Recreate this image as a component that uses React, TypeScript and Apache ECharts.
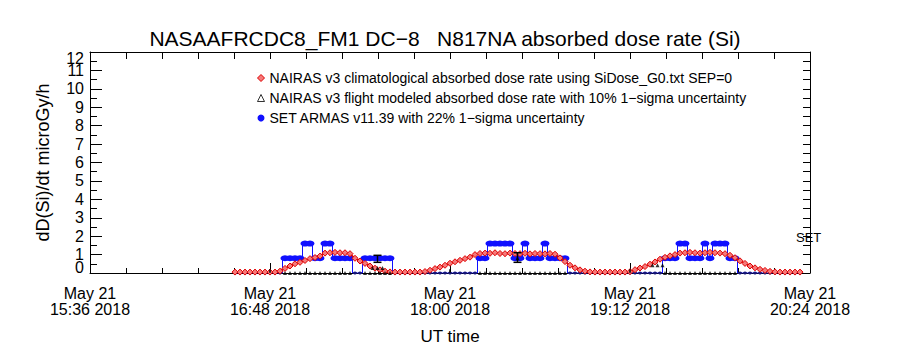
import React, { useEffect, useRef } from "react";
import * as echarts from "echarts";

// ---- data (minutes after 15:36 UT, May 21 2018) ----
const xTickLabels = ["15:36", "16:48", "18:00", "19:12", "20:24"];
const xTickStep = 72; // minutes between labelled ticks

const sampleMinutes = [
  58, 60, 62, 64, 66, 68, 70, 72, 74, 76, 78, 80, 82, 84, 86, 88, 90, 92, 94, 96,
  98, 100, 102, 104, 106, 108, 110, 112, 114, 116, 118, 120, 122, 124, 126, 128, 130, 132, 134, 136,
  138, 140, 142, 144, 146, 148, 150, 152, 154, 156, 158, 160, 162, 164, 166, 168, 170, 172, 174, 176,
  178, 180, 182, 184, 186, 188, 190, 192, 194, 196, 198, 200, 202, 204, 206, 208, 210, 212, 214, 216,
  218, 220, 222, 224, 226, 228, 230, 232, 234, 236, 238, 240, 242, 244, 246, 248, 250, 252, 254, 256,
  258, 260, 262, 264, 266, 268, 270, 272, 274, 276, 278, 280, 282, 284,
];

// NAIRAS v3 climatological absorbed dose rate
const climDose = [
  0.05, 0.05, 0.05, 0.05, 0.05, 0.05, 0.05, 0.05, 0.05,
  0.1, 0.25, 0.38, 0.5, 0.58, 0.68, 0.78, 0.84, 0.92, 1.08, 1.1, 1.12, 1.1, 1.1, 1.05,
  0.8, 0.65, 0.52, 0.38, 0.26, 0.17, 0.1, 0.06,
  0.05, 0.05, 0.05, 0.05, 0.05, 0.05,
  0.08, 0.15, 0.24, 0.32, 0.42, 0.53, 0.61, 0.69, 0.78, 0.86, 1.0, 1.06,
  1.08, 1.07, 1.1, 1.06, 1.05, 1.08, 1.06, 1.05, 1.07, 1.04, 1.06, 1.05, 1.04, 1.06, 1.02,
  0.82, 0.62, 0.42, 0.28, 0.17, 0.1, 0.06,
  0.05, 0.05, 0.05, 0.05, 0.05, 0.05, 0.05,
  0.07, 0.18, 0.27, 0.35, 0.48, 0.6, 0.75, 0.85, 0.93, 1.0, 1.08, 1.1,
  1.12, 1.1, 1.08, 1.1, 1.12, 1.1, 1.08, 1.05,
  0.96, 0.83, 0.66, 0.52, 0.38, 0.28, 0.2, 0.14, 0.09, 0.06,
  0.05, 0.05, 0.05, 0.05, 0.05,
];

// SET ARMAS v11.39
const setDose = [
  0, 0, 0, 0, 0, 0, 0, 0, 0, 0,
  0.8, 0.8, 0.8, 0.8, 1.6, 1.6, 0.8, 0.8, 1.6, 1.6, 0.8, 0.8, 0.8, 0.8, 0, 0, 0.8, 0.8, 0.8, 0.8, 0.8, 0.8,
  0, 0, 0, 0, 0, 0, 0, 0, 0, 0, 0, 0, 0, 0, 0, 0, 0,
  0.8, 0.8, 1.6, 1.6, 1.6, 1.6, 1.6, 0.8, 0.8, 1.6, 0.8, 0.8, 0.8, 1.6, 0.8, 0.8, 0.8, 0.8,
  0, 0, 0, 0, 0, 0, 0, 0, 0, 0, 0, 0, 0, 0, 0, 0, 0, 0, 0,
  0.8, 0.8, 0.8, 1.6, 1.6, 0.8, 0.8, 0.8, 1.6, 0.8, 1.6, 1.6, 1.6, 0.8, 0.8,
  0, 0, 0, 0, 0, 0, 0, 0, 0, 0, 0, 0, 0,
];

// NAIRAS v3 flight modeled absorbed dose rate
const flightMinutes = [
  78, 80, 82, 84, 86, 88, 90, 92, 94, 96, 98, 100, 102, 104, 110, 112, 113, 114, 115, 116, 117, 118, 120,
  156, 158, 160, 162, 164, 166, 168, 170, 171, 172, 174, 176, 178, 180, 182, 184, 186, 188, 190,
  225, 227, 229, 230, 232, 234, 236, 238, 240, 242, 244, 246, 248, 250, 252, 254, 256, 258,
];
const flightDose = [
  0, 0, 0, 0, 0, 0, 0, 0, 0, 0, 0, 0, 0, 0, 0, 0, 0.27, 0, 0.27, 0, 0.27, 0, 0,
  0, 0, 0, 0, 0, 0, 0, 0, 0.8, 0, 0, 0, 0, 0, 0, 0, 0, 0, 0,
  0.42, 0.42, 0.42, 0, 0, 0, 0, 0, 0, 0, 0, 0, 0, 0, 0, 0, 0, 0,
];
// 1-sigma uncertainty bars of the flight model
const errMinutes = [72, 115, 144, 171, 216];
const errLow = [0.02, 0.58, 0.02, 0.58, 0.02];
const errHigh = [0.2, 0.96, 0.2, 1.1, 0.2];

const climName = "NAIRAS v3 climatological absorbed dose rate using SiDose_G0.txt SEP=0";
const flightName = "NAIRAS v3 flight modeled absorbed dose rate with 10% 1\u2212sigma uncertainty";
const setName = "SET ARMAS v11.39 with 22% 1\u2212sigma uncertainty";

const Y_MIN = 0;
const Y_MAX = 12;

const FONT = "Liberation Sans";
const RED = "#e00000";
const RED_FILL = "#f47a7a";
const BLUE = "#1010ff";
const NAVY = "#16167a";

export default function App() {
  const ref = useRef<HTMLDivElement>(null);

  useEffect(() => {
    if (!ref.current) return;
    const chart = echarts.init(ref.current, undefined, { renderer: "svg" });

    const yLabelBase = { fontFamily: FONT, fontSize: 16, lineHeight: 12, color: "#000", margin: 6 };

    const option: any = {
      animation: false,
      backgroundColor: "#ffffff",
      textStyle: { fontFamily: FONT, color: "#000" },
      grid: { left: 90, right: 90, top: 52, bottom: 72, containLabel: false },
      graphic: [
        {
          type: "text",
          x: 445,
          y: 38,
          style: {
            text: "NASAAFRCDC8_FM1 DC\u22128   N817NA absorbed dose rate (Si)",
            fontFamily: FONT,
            fontSize: 21,
            fill: "#000",
            textAlign: "center",
            textVerticalAlign: "middle",
          },
        },
        {
          type: "text",
          x: 796,
          y: 237,
          style: {
            text: "SET",
            fontFamily: FONT,
            fontSize: 13,
            fill: "#000",
            textAlign: "left",
            textVerticalAlign: "middle",
          },
        },
      ],
      legend: {
        orient: "vertical",
        left: 257,
        top: 71,
        padding: 0,
        itemWidth: 7,
        itemHeight: 7,
        itemGap: 6,
        selectedMode: false,
        textStyle: { fontFamily: FONT, fontSize: 14, color: "#000" },
        data: [
          { name: climName, icon: "diamond", itemStyle: { color: RED_FILL, borderColor: RED, borderWidth: 1 } },
          { name: flightName, icon: "triangle", itemStyle: { color: "#ffffff", borderColor: "#000", borderWidth: 1 } },
          { name: setName, icon: "circle", itemStyle: { color: BLUE } },
        ],
      },
      xAxis: [
        {
          type: "value",
          position: "bottom",
          min: 0,
          max: xTickStep * (xTickLabels.length - 1),
          interval: xTickStep,
          name: "UT time",
          nameLocation: "middle",
          nameGap: 55,
          nameTextStyle: { fontFamily: FONT, fontSize: 17, color: "#000" },
          axisLine: { show: true, onZero: false, lineStyle: { color: "#000", width: 1 } },
          axisTick: { show: true, inside: true, length: 10, lineStyle: { color: "#000" } },
          minorTick: { show: true, splitNumber: 5, length: 5, lineStyle: { color: "#000" } },
          splitLine: { show: false },
          axisLabel: {
            margin: 12,
            fontFamily: FONT,
            fontSize: 16,
            lineHeight: 16,
            color: "#000",
            showMinLabel: true,
            showMaxLabel: true,
            formatter: (v: number) => {
              const idx = Math.round(v / xTickStep);
              return "May 21\n" + xTickLabels[idx] + " 2018";
            },
          },
        },
        {
          type: "value",
          position: "top",
          min: 0,
          max: xTickStep * (xTickLabels.length - 1),
          interval: 14.4,
          axisLine: { show: true, onZero: false, lineStyle: { color: "#000", width: 1 } },
          axisTick: { show: true, inside: true, length: 7, lineStyle: { color: "#000" } },
          axisLabel: { show: false },
          splitLine: { show: false },
        },
      ],
      yAxis: [
        {
          type: "value",
          position: "left",
          offset: 0,
          min: Y_MIN,
          max: Y_MAX,
          interval: 1,
          name: "dD(Si)/dt microGy/h",
          nameLocation: "middle",
          nameGap: 38,
          nameRotate: 90,
          nameTextStyle: { fontFamily: FONT, fontSize: 18, color: "#000" },
          axisLine: { show: true, onZero: false, lineStyle: { color: "#000", width: 1 } },
          axisTick: { show: true, inside: true, length: 12, lineStyle: { color: "#000" } },
          minorTick: { show: true, splitNumber: 2, length: 7, lineStyle: { color: "#000" } },
          splitLine: { show: false },
          axisLabel: {
            ...yLabelBase,
            showMinLabel: false,
            showMaxLabel: false,
          },
        },
        {
          type: "value",
          position: "right",
          min: Y_MIN,
          max: Y_MAX,
          interval: 0.5,
          axisLine: { show: true, onZero: false, lineStyle: { color: "#000", width: 1 } },
          axisTick: { show: true, inside: true, length: 7, lineStyle: { color: "#000" } },
          axisLabel: { show: false },
          splitLine: { show: false },
        },
        {
          // end labels (0 and 12) kept inside the axis extent
          type: "value",
          position: "left",
          offset: 0,
          min: Y_MIN,
          max: Y_MAX,
          interval: Y_MAX - Y_MIN,
          axisLine: { show: false },
          axisTick: { show: false },
          splitLine: { show: false },
          axisLabel: {
            ...yLabelBase,
            showMinLabel: true,
            showMaxLabel: true,
            verticalAlignMinLabel: "bottom",
            verticalAlignMaxLabel: "top",
          },
        },
      ],
      series: [
        {
          name: setName,
          type: "line",
          xAxisIndex: 0,
          yAxisIndex: 0,
          step: "middle",
          symbol: "circle",
          symbolSize: (v: number[]) => (v[1] > 0 ? [9, 6] : [4, 3]),
          lineStyle: { color: BLUE, width: 1 },
          itemStyle: { color: BLUE },
          z: 2,
          data: sampleMinutes.map((m, i) => ({
            value: [m, setDose[i]],
            itemStyle: { color: setDose[i] > 0 ? BLUE : NAVY },
          })),
        },
        {
          name: climName,
          type: "line",
          xAxisIndex: 0,
          yAxisIndex: 0,
          symbol: "diamond",
          symbolSize: 6,
          lineStyle: { color: RED, width: 1.5 },
          itemStyle: { color: RED_FILL, borderColor: RED, borderWidth: 1 },
          z: 3,
          data: sampleMinutes.map((m, i) => [m, climDose[i]]),
        },
        {
          name: flightName,
          type: "scatter",
          xAxisIndex: 0,
          yAxisIndex: 0,
          symbol: "triangle",
          symbolSize: [4, 4],
          itemStyle: { color: "#000" },
          z: 4,
          data: flightMinutes.map((m, i) => [m, flightDose[i]]),
        },
        {
          name: "flight-err",
          type: "custom",
          xAxisIndex: 0,
          yAxisIndex: 0,
          z: 5,
          encode: { x: 0, y: [1, 2] },
          data: errMinutes.map((m, i) => [m, errLow[i], errHigh[i]]),
          renderItem: (params: any, api: any) => {
            const x = api.value(0);
            const lo = api.value(1);
            const hi = api.value(2);
            const p1 = api.coord([x, lo]);
            const p2 = api.coord([x, hi]);
            const style = { stroke: "#000", lineWidth: 1.5 };
            const children: any[] = [
              { type: "line", shape: { x1: p1[0], y1: p1[1], x2: p2[0], y2: p2[1] }, style },
            ];
            if (hi - lo > 0.3) {
              children.push({ type: "line", shape: { x1: p1[0] - 4, y1: p1[1], x2: p1[0] + 4, y2: p1[1] }, style });
              children.push({ type: "line", shape: { x1: p2[0] - 4, y1: p2[1], x2: p2[0] + 4, y2: p2[1] }, style });
            }
            return { type: "group", children };
          },
        },
      ],
    };

    chart.setOption(option);
    return () => chart.dispose();
  }, []);

  return (
    <div
      ref={ref}
      style={{ position: "absolute", left: 0, top: 0, width: 900, height: 350, background: "#fff" }}
    />
  );
}
